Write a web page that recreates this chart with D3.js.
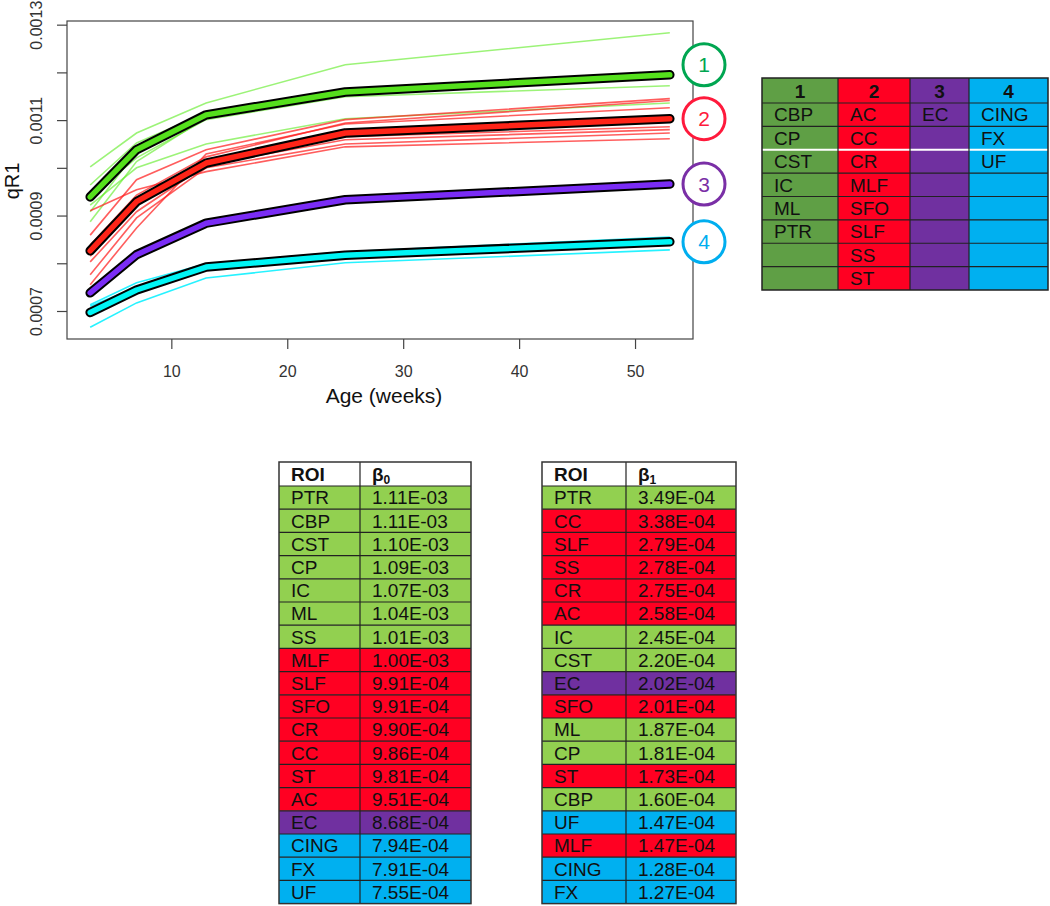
<!DOCTYPE html>
<html>
<head>
<meta charset="utf-8">
<script src="https://cdn.jsdelivr.net/npm/d3@7"></script>
<style>
  body { margin: 0; background: #fff; }
  svg { display: block; font-family: "Liberation Sans", Arial, sans-serif; }
</style>
</head>
<body>
<svg width="1050" height="906"></svg>
<script>
// ages where qR1 was sampled
const ages = [3, 7, 13, 25, 53];
const groupNames = ["1", "2", "3", "4"];

// individual ROI curves, per cluster
const group1Lines = [
  [0.001002, 0.001073, 0.001136, 0.001216, 0.001283],
  [0.000964, 0.001052, 0.001115, 0.001159, 0.001195],
  [0.000908, 0.001034, 0.001117, 0.001164, 0.001199],
  [0.000887, 0.001013, 0.001105, 0.001157, 0.001191],
  [0.000922, 0.001000, 0.001050, 0.001103, 0.001136],
  [0.000939, 0.001021, 0.001101, 0.001149, 0.001172]
];
const group2Lines = [
  [0.000910, 0.000954, 0.000992, 0.001044, 0.001061],
  [0.000859, 0.000975, 0.001038, 0.001101, 0.001145],
  [0.000838, 0.000943, 0.001023, 0.001094, 0.001141],
  [0.000828, 0.000933, 0.001017, 0.001076, 0.001103],
  [0.000815, 0.000922, 0.001013, 0.001065, 0.001086],
  [0.000803, 0.000908, 0.001006, 0.001059, 0.001080],
  [0.000776, 0.000895, 0.001000, 0.001050, 0.001073],
  [0.000755, 0.000874, 0.001029, 0.001092, 0.001126]
];
const group3Lines = [
  [0.000738, 0.000818, 0.000884, 0.000933, 0.000966]
];
const group4Lines = [
  [0.000713, 0.000759, 0.000799, 0.000824, 0.000855],
  [0.000710, 0.000750, 0.000797, 0.000822, 0.000849],
  [0.000666, 0.000717, 0.000769, 0.000801, 0.000828]
];
// cluster means (thick lines)
const groupMeans = [
  [0.000939, 0.001038, 0.001111, 0.001159, 0.001195],
  [0.000826, 0.000929, 0.001010, 0.001073, 0.001103],
  [0.000738, 0.000818, 0.000884, 0.000933, 0.000966],
  [0.000697, 0.000744, 0.000792, 0.000817, 0.000845]
];

const xTicks = [10, 20, 30, 40, 50];
const yTicks = [0.0007, 0.0008, 0.0009, 0.0010, 0.0011, 0.0012, 0.0013];
const yLabelled = [0.0007, 0.0009, 0.0011, 0.0013];

// cluster membership table
const legendRois = [
  ["CBP", "CP", "CST", "IC", "ML", "PTR"],
  ["AC", "CC", "CR", "MLF", "SFO", "SLF", "SS", "ST"],
  ["EC"],
  ["CING", "FX", "UF"]
];

// beta0 table
const b0Roi = ["PTR","CBP","CST","CP","IC","ML","SS","MLF","SLF","SFO","CR","CC","ST","AC","EC","CING","FX","UF"];
const b0Val = ["1.11E-03","1.11E-03","1.10E-03","1.09E-03","1.07E-03","1.04E-03","1.01E-03","1.00E-03","9.91E-04","9.91E-04","9.90E-04","9.86E-04","9.81E-04","9.51E-04","8.68E-04","7.94E-04","7.91E-04","7.55E-04"];
const b0Grp = [1,1,1,1,1,1,1,2,2,2,2,2,2,2,3,4,4,4];

// beta1 table
const b1Roi = ["PTR","CC","SLF","SS","CR","AC","IC","CST","EC","SFO","ML","CP","ST","CBP","UF","MLF","CING","FX"];
const b1Val = ["3.49E-04","3.38E-04","2.79E-04","2.78E-04","2.75E-04","2.58E-04","2.45E-04","2.20E-04","2.02E-04","2.01E-04","1.87E-04","1.81E-04","1.73E-04","1.60E-04","1.47E-04","1.47E-04","1.28E-04","1.27E-04"];
const b1Grp = [1,2,2,2,2,2,1,1,3,2,1,1,2,1,4,2,4,4];

const thinColors  = ["rgba(90,235,30,0.6)", "rgba(255,30,30,0.72)", "rgba(120,40,255,0.7)", "rgba(0,240,255,0.85)"];
const thickColors = ["#55e01c", "#ff2418", "#7a2cf5", "#00f5f5"];
const ringColors  = ["#00a651", "#ff1a3c", "#7a2fa6", "#00aeef"];
const legendFill  = ["#5f9f45", "#ff0022", "#7030a0", "#00b0f0"];
const tableFill   = ["#92d050", "#ff0022", "#7030a0", "#00b0f0"];

const svg = d3.select("svg");
const FS = 19; // table text size

// ---------- line chart ----------
const plot = { left: 67, right: 693, top: 21, bottom: 339 };

const allVals = [group1Lines, group2Lines, group3Lines, group4Lines, [groupMeans.flat()]].flat(2);
const yExt = d3.extent(allVals);
const yPad = (yExt[1] - yExt[0]) * 0.04;
const xExt = d3.extent(ages);
const xPad = (xExt[1] - xExt[0]) * 0.04;

const x = d3.scaleLinear().domain([xExt[0] - xPad, xExt[1] + xPad]).range([plot.left, plot.right]);
const y = d3.scaleLinear().domain([yExt[0] - yPad, yExt[1] + yPad]).range([plot.bottom, plot.top]);

const line = d3.line().x((d, i) => x(ages[i])).y(d => y(d));

const chart = svg.append("g");

[group1Lines, group2Lines, group3Lines, group4Lines].forEach((lines, gi) => {
  chart.append("g")
    .selectAll("path")
    .data(lines)
    .join("path")
      .attr("d", line)
      .attr("fill", "none")
      .attr("stroke", thinColors[gi])
      .attr("stroke-width", 1.6);
});

const means = chart.append("g")
  .selectAll("g")
  .data(groupMeans)
  .join("g");
means.append("path")
  .attr("d", line)
  .attr("fill", "none")
  .attr("stroke", "#000")
  .attr("stroke-width", 9.5)
  .attr("stroke-linecap", "round")
  .attr("stroke-linejoin", "round");
means.append("path")
  .attr("d", line)
  .attr("fill", "none")
  .attr("stroke", (d, i) => thickColors[i])
  .attr("stroke-width", 5.5)
  .attr("stroke-linecap", "round")
  .attr("stroke-linejoin", "round");

// box
chart.append("rect")
  .attr("x", plot.left).attr("y", plot.top)
  .attr("width", plot.right - plot.left).attr("height", plot.bottom - plot.top)
  .attr("fill", "none").attr("stroke", "#444").attr("stroke-width", 1.2);

// x axis
const xAxis = chart.append("g")
  .attr("transform", `translate(0,${plot.bottom})`)
  .call(d3.axisBottom(x).tickValues(xTicks).tickSize(10).tickPadding(17).tickFormat(d3.format("d")));
xAxis.select(".domain").remove();
xAxis.selectAll("line").attr("stroke", "#444").attr("stroke-width", 1.2);
xAxis.selectAll("text").attr("font-size", 16).attr("fill", "#333").attr("font-family", "Liberation Sans, Arial, sans-serif");

// y axis
const yAxis = chart.append("g")
  .attr("transform", `translate(${plot.left},0)`)
  .call(d3.axisLeft(y).tickValues(yTicks).tickSize(10)
    .tickFormat(d => yLabelled.some(v => Math.abs(v - d) < 1e-9) ? d3.format(".4f")(d) : ""));
yAxis.select(".domain").remove();
yAxis.selectAll("line").attr("stroke", "#444").attr("stroke-width", 1.2);
yAxis.selectAll("text")
  .attr("x", null).attr("dy", null).attr("y", 0)
  .attr("transform", "translate(-25,0) rotate(-90)")
  .attr("text-anchor", "middle")
  .attr("font-size", 16).attr("fill", "#333").attr("font-family", "Liberation Sans, Arial, sans-serif");

chart.append("text")
  .attr("x", (plot.left + plot.right) / 2 + 4).attr("y", 403)
  .attr("text-anchor", "middle").attr("font-size", 21).attr("fill", "#111")
  .text("Age (weeks)");
chart.append("text")
  .attr("transform", "translate(19,181) rotate(-90)")
  .attr("text-anchor", "middle").attr("font-size", 20).attr("fill", "#111")
  .text("qR1");

// cluster rings at line ends
const ringOffset = [-10, 0, 0, 0];
const rings = chart.append("g")
  .selectAll("g")
  .data(groupMeans)
  .join("g")
    .attr("transform", (d, i) => `translate(704,${y(d[d.length - 1]) + ringOffset[i]})`);
rings.append("circle")
  .attr("r", 21)
  .attr("fill", "#fff")
  .attr("stroke", (d, i) => ringColors[i])
  .attr("stroke-width", 3);
rings.append("text")
  .attr("text-anchor", "middle").attr("dy", 7.5)
  .attr("font-size", 21)
  .attr("fill", (d, i) => ringColors[i])
  .text((d, i) => groupNames[i]);

// ---------- cluster membership table ----------
const lg = svg.append("g");
const legCols = [762, 838, 910, 969, 1048];
const legHeadTop = 78, legHeadBot = 103;
const nLegRows = d3.max(legendRois, d => d.length);
const legRow = d3.scaleBand().domain(d3.range(nLegRows)).range([legHeadBot, 290]);

groupNames.forEach((g, ci) => {
  lg.append("rect")
    .attr("x", legCols[ci]).attr("y", legHeadTop)
    .attr("width", legCols[ci + 1] - legCols[ci]).attr("height", 290 - legHeadTop)
    .attr("fill", legendFill[ci]);
  lg.append("text")
    .attr("x", (legCols[ci] + legCols[ci + 1]) / 2).attr("y", legHeadBot - 5)
    .attr("text-anchor", "middle").attr("font-size", FS).attr("font-weight", "bold").attr("fill", "#111")
    .text(g);
  lg.selectAll(null)
    .data(legendRois[ci])
    .join("text")
      .attr("x", legCols[ci] + 12)
      .attr("y", (d, i) => legRow(i) + legRow.bandwidth() / 2 + 6.8)
      .attr("font-size", FS).attr("fill", "#111")
      .text(d => d);
});
// grid
lg.selectAll(null)
  .data(d3.range(nLegRows))
  .join("line")
    .attr("x1", legCols[0]).attr("x2", legCols[4])
    .attr("y1", d => legRow(d)).attr("y2", d => legRow(d))
    .attr("stroke", d => d === 2 ? "#fff" : "#222")
    .attr("stroke-width", d => d === 2 ? 1.8 : 1.2);
lg.selectAll(null)
  .data(legCols.slice(1, 4))
  .join("line")
    .attr("x1", d => d).attr("x2", d => d)
    .attr("y1", legHeadTop).attr("y2", 290)
    .attr("stroke", "#222").attr("stroke-width", 1.2);
lg.append("rect")
  .attr("x", legCols[0]).attr("y", legHeadTop)
  .attr("width", legCols[4] - legCols[0]).attr("height", 290 - legHeadTop)
  .attr("fill", "none").attr("stroke", "#222").attr("stroke-width", 1.5);

// ---------- beta tables ----------
function betaTable(x0, xDiv, x1, rois, vals, grps, sub) {
  const top = 462, headBot = 486, bottom = 903.6;
  const g = svg.append("g");
  const row = d3.scaleBand().domain(d3.range(rois.length)).range([headBot, bottom]);

  g.append("rect").attr("x", x0).attr("y", top).attr("width", x1 - x0).attr("height", headBot - top).attr("fill", "#fff");
  g.selectAll(null)
    .data(rois)
    .join("rect")
      .attr("x", x0).attr("y", (d, i) => row(i))
      .attr("width", x1 - x0).attr("height", row.bandwidth())
      .attr("fill", (d, i) => tableFill[grps[i] - 1]);

  g.append("text").attr("x", x0 + 12).attr("y", headBot - 5)
    .attr("font-size", FS).attr("font-weight", "bold").attr("fill", "#111").text("ROI");
  const h = g.append("text").attr("x", xDiv + 12).attr("y", headBot - 5)
    .attr("font-size", FS).attr("font-weight", "bold").attr("fill", "#111");
  h.append("tspan").text("β");
  h.append("tspan").attr("font-size", 12).attr("dy", 3).text(sub);

  g.selectAll(null)
    .data(rois)
    .join("text")
      .attr("x", x0 + 12)
      .attr("y", (d, i) => row(i) + row.bandwidth() / 2 + 6.8)
      .attr("font-size", FS).attr("fill", "#111")
      .text(d => d);
  g.selectAll(null)
    .data(vals)
    .join("text")
      .attr("x", xDiv + 12)
      .attr("y", (d, i) => row(i) + row.bandwidth() / 2 + 6.8)
      .attr("font-size", FS).attr("fill", "#111")
      .text(d => d);

  g.selectAll(null)
    .data(d3.range(rois.length))
    .join("line")
      .attr("x1", x0).attr("x2", x1)
      .attr("y1", d => row(d)).attr("y2", d => row(d))
      .attr("stroke", "#222").attr("stroke-width", 1.2);
  g.append("line")
    .attr("x1", xDiv).attr("x2", xDiv).attr("y1", top).attr("y2", bottom)
    .attr("stroke", "#222").attr("stroke-width", 1.2);
  g.append("rect")
    .attr("x", x0).attr("y", top).attr("width", x1 - x0).attr("height", bottom - top)
    .attr("fill", "none").attr("stroke", "#333").attr("stroke-width", 1.5);
}

betaTable(279, 360, 471, b0Roi, b0Val, b0Grp, "0");
betaTable(542, 626, 736, b1Roi, b1Val, b1Grp, "1");
</script>
</body>
</html>
